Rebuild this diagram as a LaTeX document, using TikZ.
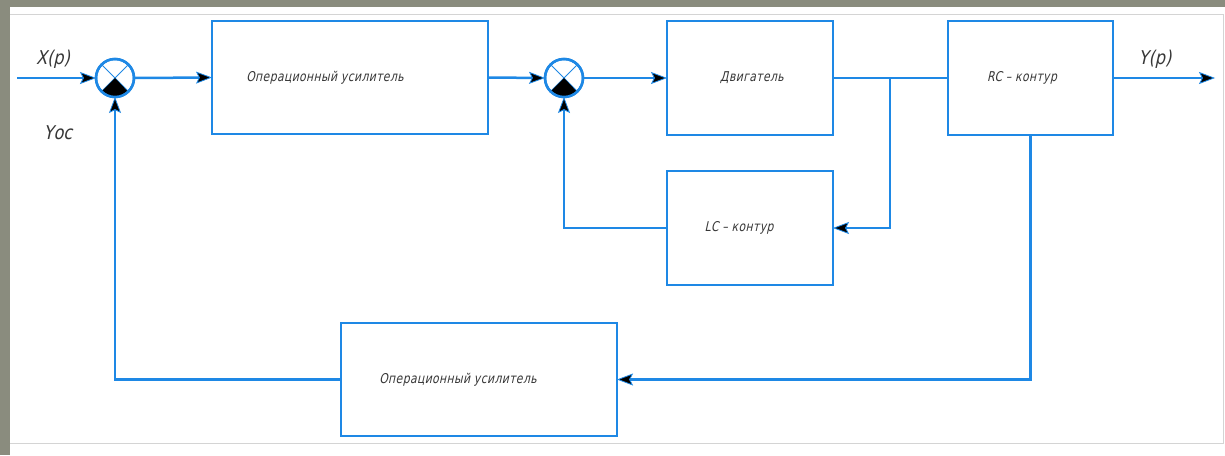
\documentclass[tikz,border=0pt]{standalone}
\usepackage{fontspec}
\newfontfamily\gost[FakeSlant=0.22,FakeStretch=0.8,LetterSpace=3]{DejaVu Sans}
\newfontfamily\gostl[FakeSlant=0.22,FakeStretch=0.85]{DejaVu Sans}
\usetikzlibrary{arrows.meta}
\definecolor{lineblue}{RGB}{30,136,229}
\definecolor{bggrey}{RGB}{138,140,126}
\definecolor{framegrey}{RGB}{212,212,212}
\definecolor{txt}{RGB}{55,55,55}
\tikzset{
  sig/.style={draw=lineblue, line width=2.5pt},
  arr/.style={sig, -{Stealth[length=16pt,width=12pt,inset=3pt,fill=black,line width=0.8pt]}},
  blk/.style={draw=lineblue, line width=2.5pt, rectangle, inner sep=0pt, outer sep=0pt,
              font=\gost\fontsize{13.5}{15}\selectfont, text=txt},
  sumj/.style={draw=lineblue, line width=2.5pt, circle, minimum size=38pt, inner sep=0pt, outer sep=0pt},
  lbl/.style={font=\gostl\fontsize{19}{21}\selectfont, text=txt, inner sep=0pt},
  cross/.style={draw=lineblue, line width=0.9pt}
}
\begin{document}
\begin{tikzpicture}[x=1pt,y=-1pt]
\useasboundingbox (0,0) rectangle (1225,455);
\fill[bggrey] (0,0) rectangle (1225,455);
\fill[white] (10,7) rectangle (1225,455);
\draw[framegrey, line width=1pt] (10,14) -- (1223,14) -- (1223,443) -- (10,443);

% summing junctions
\node[sumj] (s1) at (115,78) {};
\node[sumj] (s2) at (564,78) {};
\foreach \s in {s1,s2}{
  \draw[cross] (\s.135) -- (\s.315);
  \draw[cross] (\s.45) -- (\s.225);
  \fill[black] (\s.center) -- (\s.225) arc[start angle=135, end angle=45, radius=18.5] -- cycle;
  \draw[sig] (\s) circle[radius=19];
}

% blocks
\node[blk, minimum width=276, minimum height=113] (b1) at (350,77.5) {\hspace*{-50pt}Операционный усилитель};
\node[blk, minimum width=166, minimum height=114] (b2) at (750,78) {\hspace*{4pt}\raisebox{-3pt}{Двигатель}};
\node[blk, minimum width=165, minimum height=114] (b3) at (1030.5,78) {\hspace*{-17pt}\raisebox{4pt}{RC – контур}};
\node[blk, minimum width=166, minimum height=114] (lc) at (750,228) {\hspace*{-22pt}LC – контур};
\node[blk, minimum width=276, minimum height=113] (b4) at (479,379.5) {\hspace*{-42pt}\raisebox{-3pt}{Операционный усилитель}};

% labels
\node[lbl] (xp) at (53,59) {X(p)};
\node[lbl] (yoc) at (58,133) {Yос};
\node[lbl] (yp) at (1155,59) {Y(p)};

% connectors
\coordinate (in) at (17,78);
\coordinate (out) at (1215,78);
\coordinate (br) at (890,78);
\draw[arr] (in) -- (s1.west);
\draw[arr] (s1.east) -- (b1.west);
\draw[arr] (b1.east) -- (s2.west);
\draw[arr] (s2.east) -- (b2.west);
\draw[sig] (b2.east) -- (b3.west);
\draw[arr] (b3.east) -- (out);
\draw[arr] (br) |- (lc.east);
\draw[arr] (lc.west) -| (s2.south);
\draw[arr] (b3.south) |- (b4.east);
\draw[arr] (b4.west) -| (s1.south);
\end{tikzpicture}
\end{document}
